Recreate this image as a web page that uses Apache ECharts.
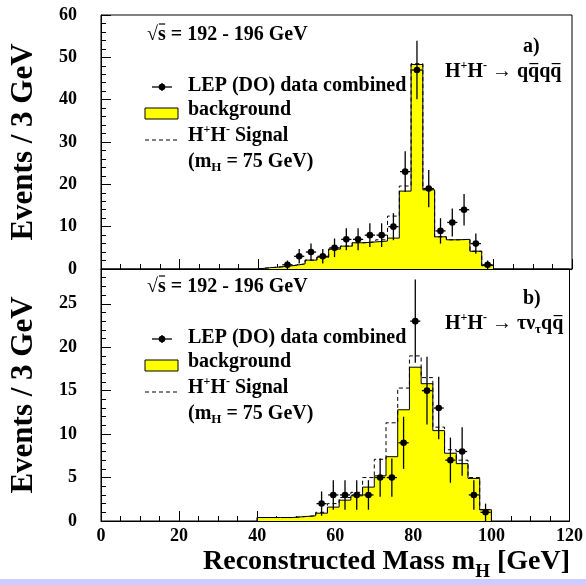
<!DOCTYPE html>
<html>
<head>
<meta charset="utf-8">
<script src="https://cdn.jsdelivr.net/npm/echarts@6/dist/echarts.min.js"></script>
<style>
html, body { margin: 0; padding: 0; background: #fff; }
#chart { width: 586px; height: 585px; }
</style>
</head>
<body>
<div id="chart"></div>
<script>
// Bin edges of the 3 GeV mass histogram (GeV)
const binEdges = [40, 43, 46, 49, 52, 55, 58, 61, 64, 67, 70, 73, 76, 79, 82, 85, 88, 91, 94, 97, 100];

// Panel a) H+H- -> qqqq
const bgA     = [0.3, 0.5, 0.8, 1.2, 2.1, 2.8, 4.7, 5.4, 6.2, 6.4, 6.6, 7.3, 18.4, 48.3, 18.7, 7.6, 6.9, 7.0, 4.2, 0.8];
const sigA    = [0.3, 0.5, 0.8, 1.2, 2.1, 2.8, 4.7, 5.4, 6.2, 6.4, 6.9, 12.5, 19.6, 48.5, 18.9, 7.6, 6.9, 7.0, 4.2, 0.8];
const dataMassA = [47.5, 50.5, 53.5, 56.5, 59.5, 62.5, 65.5, 68.5, 71.5, 74.5, 77.5, 80.5, 83.5, 86.5, 89.5, 92.5, 95.5, 98.5];
const dataA     = [1, 3, 4, 3, 5, 7, 7, 8, 8, 10, 23, 47, 19, 9, 11, 14, 6, 1];
const errA      = [1.0, 1.7, 2.0, 1.7, 2.2, 2.6, 2.6, 2.8, 2.8, 3.2, 4.8, 6.9, 4.4, 3.0, 3.3, 3.7, 2.4, 1.0];

// Panel b) H+H- -> tau nu qq
const bgB     = [0.4, 0.4, 0.4, 0.5, 0.6, 0.9, 1.6, 2.4, 2.9, 3.9, 5.2, 7.4, 12.8, 17.7, 15.8, 10.4, 7.8, 6.6, 4.9, 1.3];
const sigB    = [0.4, 0.4, 0.4, 0.5, 0.6, 1.0, 2.0, 2.7, 3.3, 5.0, 7.1, 11.3, 15.3, 19.0, 16.5, 10.8, 8.2, 7.0, 5.0, 1.3];
const dataMassB = [56.5, 59.5, 62.5, 65.5, 68.5, 71.5, 74.5, 77.5, 80.5, 83.5, 86.5, 89.5, 92.5, 95.5, 98.5];
const dataB     = [2, 3, 3, 3, 3, 5, 5, 9, 23, 15, 13, 7, 8, 3, 1];
const errB      = [1.4, 1.7, 1.7, 1.7, 1.7, 2.2, 2.2, 3.0, 4.8, 3.9, 3.6, 2.6, 2.8, 1.7, 1.0];

// Axis ranges and ticks
const xTicks = { min: 0, max: 120, interval: 20 };
const yTicksA = { min: 0, max: 60, interval: 10 };
const yTicksB = { min: 0, max: 29, interval: 5 };

const FONT = '"Liberation Serif", "Times New Roman", serif';
const YELLOW = '#ffff00';

// Step outline points for a histogram
function stepPoints(vals) {
  const pts = [[binEdges[0], 0]];
  vals.forEach((v, i) => pts.push([binEdges[i], v]));
  pts.push([binEdges[binEdges.length - 1], vals[vals.length - 1]]);
  pts.push([binEdges[binEdges.length - 1], 0]);
  return pts;
}

function histSeries(idx, vals, opts) {
  return Object.assign({
    type: 'line', xAxisIndex: idx, yAxisIndex: idx,
    data: stepPoints(vals), step: 'end', showSymbol: false, silent: true,
    lineStyle: { color: '#000', width: 1 }
  }, opts);
}

function errorSeries(idx, xs, ys, es) {
  return {
    type: 'custom', xAxisIndex: idx, yAxisIndex: idx, z: 10, silent: true,
    data: xs.map((x, i) => [x, ys[i], es[i]]),
    encode: { x: 0, y: 1 },
    renderItem: function (params, api) {
      const x = api.value(0), y = api.value(1), e = api.value(2);
      const c = api.coord([x, y]);
      const t = api.coord([x, y + e]);
      const b = api.coord([x, Math.max(0, y - e)]);
      const l = api.coord([x - 1.3, y]);
      const r = api.coord([x + 1.3, y]);
      const st = { stroke: '#000', lineWidth: 1.3 };
      return {
        type: 'group',
        children: [
          { type: 'line', shape: { x1: c[0], y1: t[1], x2: c[0], y2: b[1] }, style: st },
          { type: 'line', shape: { x1: l[0], y1: c[1], x2: r[0], y2: c[1] }, style: st },
          { type: 'circle', shape: { cx: c[0], cy: c[1], r: 3.3 }, style: { fill: '#000' } }
        ]
      };
    }
  };
}

// Text layout with super/subscripts and overbars
const mctx = document.createElement('canvas').getContext('2d');
function tw(t, s) { mctx.font = 'bold ' + s + 'px ' + FONT; return mctx.measureText(t).width; }
function textRun(x, y, parts, align) {
  const widths = parts.map(p => tw(p.t, p.s));
  const total = widths.reduce((a, b) => a + b, 0);
  let cx = align === 'right' ? x - total : x;
  const els = [];
  parts.forEach((p, i) => {
    els.push({
      type: 'text', x: cx, y: y + (p.dy || 0), silent: true,
      style: { text: p.t, font: 'bold ' + p.s + 'px ' + FONT, fill: '#000', align: 'left', verticalAlign: 'middle' }
    });
    if (p.over) {
      const oy = y - p.s * (p.overY || 0.42);
      els.push({ type: 'line', silent: true,
        shape: { x1: cx + widths[i] * 0.12, y1: oy, x2: cx + widths[i] * 0.92, y2: oy },
        style: { stroke: '#000', lineWidth: 1.2 } });
    }
    cx += widths[i];
  });
  return els;
}

const S = 20, SUP = 12;
function panelText(dy, label, decay) {
  const els = [];
  els.push(...textRun(147, 35 + dy, [
    { t: '\u221A', s: S }, { t: 's', s: S, over: true, overY: 0.55 }, { t: ' = 192 - 196 GeV', s: S }
  ]));
  els.push(...textRun(523, 47 + dy, [{ t: label, s: S }]));
  els.push(...textRun(445, 72 + dy, [
    { t: 'H', s: S }, { t: '+', s: SUP, dy: -6 }, { t: 'H', s: S }, { t: '-', s: SUP, dy: -6 }, { t: ' \u2192 ', s: S }
  ].concat(decay)));
  // legend: data marker
  els.push({ type: 'line', silent: true, shape: { x1: 152, y1: 87 + dy, x2: 172, y2: 87 + dy }, style: { stroke: '#000', lineWidth: 1.3 } });
  els.push({ type: 'line', silent: true, shape: { x1: 162, y1: 83 + dy, x2: 162, y2: 91 + dy }, style: { stroke: '#000', lineWidth: 1.3 } });
  els.push({ type: 'circle', silent: true, shape: { cx: 162, cy: 87 + dy, r: 3.3 }, style: { fill: '#000' } });
  els.push(...textRun(188, 86 + dy, [{ t: 'LEP (DO) data combined', s: S }]));
  // legend: background box
  els.push({ type: 'rect', silent: true, shape: { x: 145, y: 108 + dy, width: 33, height: 11 }, style: { fill: YELLOW, stroke: '#000', lineWidth: 1 } });
  els.push(...textRun(188, 110 + dy, [{ t: 'background', s: S }]));
  // legend: signal dashed line
  els.push({ type: 'line', silent: true, shape: { x1: 145, y1: 140 + dy, x2: 178, y2: 140 + dy }, style: { stroke: '#000', lineWidth: 1, lineDash: [4, 3] } });
  els.push(...textRun(188, 136 + dy, [
    { t: 'H', s: S }, { t: '+', s: SUP, dy: -6 }, { t: 'H', s: S }, { t: '-', s: SUP, dy: -6 }, { t: ' Signal', s: S }
  ]));
  els.push(...textRun(188, 162 + dy, [
    { t: '(m', s: S }, { t: 'H', s: 13, dy: 6 }, { t: ' = 75 GeV)', s: S }
  ]));
  return els;
}

const graphics = [];
graphics.push({ type: 'rect', silent: true, shape: { x: 0, y: 579, width: 586, height: 6 }, style: { fill: '#ccccff' } });
graphics.push(...panelText(0, 'a)', [
  { t: 'q', s: S }, { t: 'q', s: S, over: true }, { t: 'q', s: S }, { t: 'q', s: S, over: true }
]));
graphics.push(...panelText(252, 'b)', [
  { t: '\u03C4\u03BD', s: S }, { t: '\u03C4', s: 13, dy: 6 }, { t: 'q', s: S }, { t: 'q', s: S, over: true }
]));
graphics.push(...textRun(570, 562, [
  { t: 'Reconstructed Mass m', s: 28 }, { t: 'H', s: 19, dy: 10 }, { t: ' [GeV]', s: 28 }
], 'right'));

const labelStyle = { fontFamily: FONT, fontWeight: 'bold', fontSize: 18, color: '#000' };

function xAxis(idx, showLabels) {
  return {
    type: 'value', gridIndex: idx, min: xTicks.min, max: xTicks.max, interval: xTicks.interval,
    axisLine: { show: true, lineStyle: { color: '#000', width: 1 } },
    axisTick: { show: true, inside: true, length: 10, lineStyle: { color: '#000' } },
    minorTick: { show: true, splitNumber: 4, length: 5, lineStyle: { color: '#000' } },
    splitLine: { show: false },
    axisLabel: Object.assign({ show: showLabels, margin: 6 }, labelStyle)
  };
}
function yAxis(idx, t, showMax) {
  return {
    type: 'value', gridIndex: idx, min: t.min, max: t.max, interval: t.interval,
    name: 'Events / 3 GeV', nameLocation: 'middle', nameGap: 62,
    nameTextStyle: { fontFamily: FONT, fontWeight: 'bold', fontSize: 31, color: '#000' },
    axisLine: { show: true, lineStyle: { color: '#000', width: 1 } },
    axisTick: { show: true, inside: true, length: 10, lineStyle: { color: '#000' } },
    minorTick: { show: true, splitNumber: 5, length: 5, lineStyle: { color: '#000' } },
    splitLine: { show: false },
    axisLabel: Object.assign({ margin: 24, showMaxLabel: showMax }, labelStyle)
  };
}

const chart = echarts.init(document.getElementById('chart'), null, { renderer: 'canvas' });
chart.setOption({
  animation: false,
  backgroundColor: '#fff',
  grid: [
    { left: 98, right: 14, top: 15, height: 254, show: true, borderColor: '#000', borderWidth: 1, backgroundColor: 'transparent' },
    { left: 98, right: 14, top: 269, height: 252, show: true, borderColor: '#000', borderWidth: 1, backgroundColor: 'transparent' }
  ],
  xAxis: [xAxis(0, false), xAxis(1, true)],
  yAxis: [yAxis(0, yTicksA, true), yAxis(1, yTicksB, false)],
  series: [
    histSeries(0, bgA, { z: 2, lineStyle: { width: 0 }, areaStyle: { color: YELLOW, opacity: 1 } }),
    histSeries(0, sigA, { z: 3, lineStyle: { color: '#000', width: 1, type: [4, 3] } }),
    histSeries(0, bgA, { z: 4 }),
    errorSeries(0, dataMassA, dataA, errA),
    histSeries(1, bgB, { z: 2, lineStyle: { width: 0 }, areaStyle: { color: YELLOW, opacity: 1 } }),
    histSeries(1, sigB, { z: 3, lineStyle: { color: '#000', width: 1, type: [4, 3] } }),
    histSeries(1, bgB, { z: 4 }),
    errorSeries(1, dataMassB, dataB, errB)
  ],
  graphic: graphics
});
</script>
</body>
</html>
